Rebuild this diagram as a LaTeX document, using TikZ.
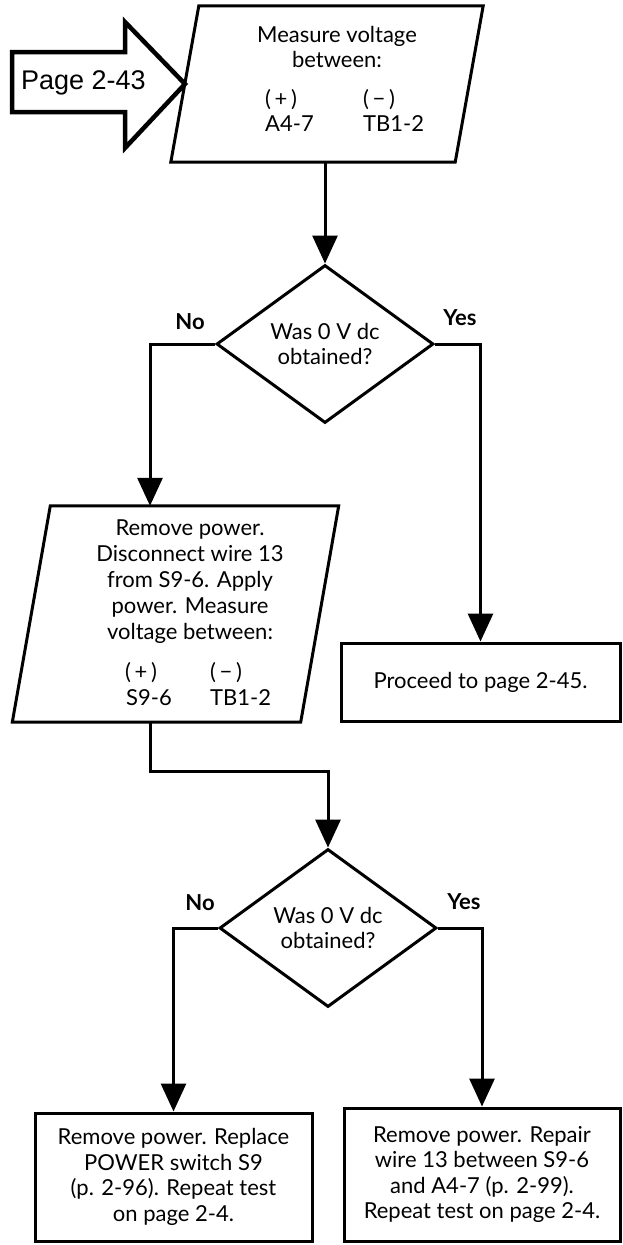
\documentclass[tikz,border=0pt]{standalone}
\usepackage{fontspec}
\setmainfont{Lato}
\newfontfamily\arialfont{Liberation Sans}
\usetikzlibrary{shapes.geometric,arrows.meta,calc}
\newcommand{\txt}{\fontsize{22}{25.5}\selectfont}
\newcommand{\ptxt}{\fontsize{22}{26}\selectfont}
\begin{document}
\begin{tikzpicture}[x=1pt,y=-1pt,
  shapeline/.style={line width=3pt, line join=miter},
  rectbox/.style={draw, line width=3pt, inner sep=0pt, align=center, font=\txt},
  decision/.style={diamond, draw, line width=3pt, inner sep=0pt, align=center, font=\txt,
    minimum width=217pt, minimum height=158pt},
  conn/.style={line width=3pt, line join=miter, -{Triangle[length=28pt,width=25pt]}},
  lbl/.style={font=\txt\bfseries, inner sep=0pt},
  txtnode/.style={font=\txt, inner sep=0pt, align=center},
  colnode/.style={font=\txt, inner sep=0pt, anchor=west}
]
\useasboundingbox (0,0) rectangle (622,1245);

% entry arrow
\draw[line width=4.5pt, line join=miter] (12,52) -- (125,52) -- (125,22) -- (185,84) -- (125,148) -- (125,112) -- (12,112) -- cycle;
\node[inner sep=0pt, anchor=base, font=\arialfont\fontsize{27}{30}\selectfont] (pg) at (83.5,89) {Page 2-43};

% first parallelogram
\node[draw=none, inner sep=0pt, minimum width=284pt, minimum height=156pt] (p1) at (327,84) {};
\draw[shapeline] ($(p1.south west)+(-14,0)$) -- ($(p1.north west)+(14,0)$) -- ($(p1.north east)+(14,0)$) -- ($(p1.south east)+(-14,0)$) -- cycle;
\node[txtnode] (p1t) at (337,47) {Measure voltage\\between:};
\node[colnode] (p1a) at (265,100) {(\,+\,)};
\node[colnode] (p1b) at (265,124) {A4-7};
\node[colnode] (p1c) at (363,100) {(\,−\,)};
\node[colnode] (p1d) at (363,124) {TB1-2};

% first decision
\node[decision] (d1) at (325,344) {Was 0 V dc\\obtained?};
\node[lbl] (no1) at (190,322) {No};
\node[lbl] (yes1) at (460,318) {Yes};

% second parallelogram
\node[draw=none, inner sep=0pt, minimum width=288pt, minimum height=216pt] (p2) at (175.5,614) {};
\draw[shapeline] ($(p2.south west)+(-19,0)$) -- ($(p2.north west)+(19,0)$) -- ($(p2.north east)+(19,0)$) -- ($(p2.south east)+(-19,0)$) -- cycle;
\node[txtnode, font=\ptxt] (p2t) at (190,582) {Remove power.\\Disconnect wire 13\\from S9-6. Apply\\power. Measure\\voltage between:};
\node[colnode] (p2a) at (125,673) {(\,+\,)};
\node[colnode] (p2b) at (126,698) {S9-6};
\node[colnode] (p2c) at (210,673) {(\,−\,)};
\node[colnode] (p2d) at (210,698) {TB1-2};

% proceed box
\node[rectbox, minimum width=279pt, minimum height=78pt] (p3) at (480.5,682) {Proceed to page 2-45.};

% second decision
\node[decision] (d2) at (328,928) {Was 0 V dc\\obtained?};
\node[lbl] (no2) at (200,903) {No};
\node[lbl] (yes2) at (464,902) {Yes};

% bottom boxes
\node[rectbox, minimum width=277pt, minimum height=128pt] (b1) at (173.5,1177) {Remove power. Replace\\POWER switch S9\\(p. 2-96). Repeat test\\on page 2-4.};
\node[rectbox, minimum width=276pt, minimum height=133pt] (b2) at (482,1174.5) {Remove power. Repair\\wire 13 between S9-6\\and A4-7 (p. 2-99).\\Repeat test on page 2-4.};

% connectors
\coordinate (c1) at (150,344);
\coordinate (c2) at (150,771);
\draw[conn] (p1.south -| d1.north) -- (d1.north);
\draw[conn] (d1.west) -- (c1) -- (c1 |- p2.north);
\draw[conn] (d1.east) -| (p3.north);
\draw[conn] (c1 |- p2.south) -- (c2) -| (d2.north);
\draw[conn] (d2.west) -| (b1.north);
\draw[conn] (d2.east) -| (b2.north);
\end{tikzpicture}
\end{document}
